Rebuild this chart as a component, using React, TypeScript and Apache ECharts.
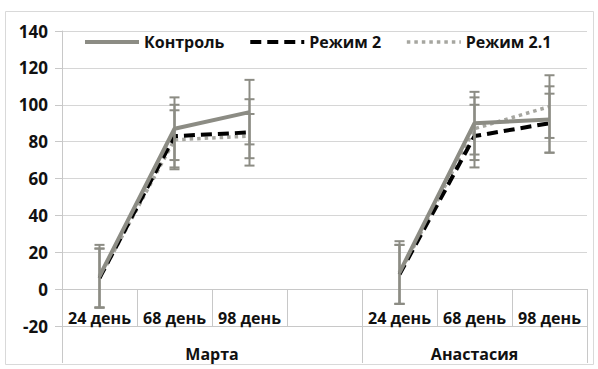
import React, { useEffect, useRef } from "react";
import * as echarts from "echarts";

const categories = ["24 день", "68 день", "98 день", "", "24 день", "68 день", "98 день"];
const groups = ["Марта", "Анастасия"];
const groupSizes = [4, 3];
const seriesNames = ["Контроль", "Режим 2", "Режим 2.1"];
const control = [7, 87, 96, null, 9, 90, 92];
const regime2 = [6, 83, 85, null, 8, 83, 90];
const regime21 = [6, 81, 83, null, 8, 87, 99];
const controlErr = [17, 17, 17.5, null, 17, 17, 18];
const regime2Err = [16, 17, 18, null, 16, 17, 16];
const regime21Err = [16, 16, 12, null, 16, 17, 17];
const yTicks = { min: -20, max: 140, interval: 20 };

const FONT = "'Open Sans', sans-serif";
const GRAY = "#8c8c84";

export default function App() {
  const ref = useRef<HTMLDivElement>(null);
  useEffect(() => {
    if (!ref.current) return;
    const chart = echarts.init(ref.current, null, { renderer: "svg" });

    const total = groupSizes.reduce((a, b) => a + b, 0);
    const halfCats: string[] = new Array(total * 2 + 1).fill("");
    const tickIdx: number[] = [0];
    const labelIdx: number[] = [];
    let start = 0;
    groups.forEach((g, i) => {
      const center = start + groupSizes[i];
      halfCats[center] = g;
      labelIdx.push(center);
      start += groupSizes[i] * 2;
      tickIdx.push(start);
    });

    const values = [control, regime2, regime21];
    const errs = [controlErr, regime2Err, regime21Err];
    const lineStyles = [
      { color: GRAY, width: 4, type: "solid" as any },
      { color: "#000000", width: 4, type: [11, 6] as any },
      { color: "#a6a6a0", width: 3.5, type: [3.5, 4] as any },
    ];
    const zs = [4, 3, 2];

    const lineSeries = values.map((v, i) => ({
      name: seriesNames[i],
      type: "line" as const,
      xAxisIndex: 0,
      yAxisIndex: 0,
      data: v.map((x) => (x === null ? "-" : x)),
      symbol: "none",
      connectNulls: false,
      lineStyle: lineStyles[i],
      itemStyle: { color: lineStyles[i].color },
      z: zs[i],
    }));

    const errSeries = values.map((v, i) => ({
      type: "custom" as const,
      xAxisIndex: 0,
      yAxisIndex: 0,
      z: 5,
      silent: true,
      data: v
        .map((x, k) => (x === null ? null : [k, x, errs[i][k]]))
        .filter((d) => d !== null),
      renderItem: (params: any, api: any) => {
        const xi = api.value(0);
        const y = api.value(1);
        const e = api.value(2);
        const top = api.coord([xi, y + e]);
        const bot = api.coord([xi, y - e]);
        const cw = 5;
        const style = { stroke: GRAY, lineWidth: 2 };
        return {
          type: "group",
          children: [
            { type: "line", shape: { x1: top[0], y1: top[1], x2: bot[0], y2: bot[1] }, style },
            { type: "line", shape: { x1: top[0] - cw, y1: top[1], x2: top[0] + cw, y2: top[1] }, style },
            { type: "line", shape: { x1: bot[0] - cw, y1: bot[1], x2: bot[0] + cw, y2: bot[1] }, style },
          ],
        };
      },
    }));

    const labelFont = { fontSize: 16, fontWeight: 700, color: "#111", fontFamily: FONT };

    chart.setOption({
      animation: false,
      backgroundColor: "#ffffff",
      textStyle: { fontFamily: FONT },
      graphic: [
        {
          type: "rect",
          shape: { x: 5.5, y: 11.5, width: 588, height: 353 },
          style: { fill: "none", stroke: "#d9d9d9", lineWidth: 1 },
          silent: true,
        },
      ],
      legend: {
        left: 78,
        top: 29,
        itemWidth: 54,
        itemHeight: 14,
        itemGap: 24,
        itemStyle: { opacity: 0 },
        textStyle: { ...labelFont },
        data: seriesNames.map((n, i) => ({
          name: n,
          lineStyle: { width: lineStyles[i].width, type: lineStyles[i].type, color: lineStyles[i].color },
        })),
      },
      grid: { left: 62, right: 11, top: 31, bottom: 43, containLabel: false },
      xAxis: [
        {
          type: "category",
          data: categories,
          boundaryGap: true,
          position: "bottom",
          offset: -37,
          axisLine: { show: true, onZero: false, lineStyle: { color: "#c8c8c8", width: 1 } },
          axisTick: { show: true, interval: 0, length: 37, lineStyle: { color: "#c8c8c8" } },
          axisLabel: { interval: 0, margin: 21, ...labelFont },
        },
        {
          type: "category",
          position: "bottom",
          data: halfCats,
          boundaryGap: false,
          axisLine: { show: true, onZero: false, lineStyle: { color: "#c8c8c8", width: 1 } },
          axisTick: {
            show: true,
            length: 37,
            interval: (idx: number) => tickIdx.includes(idx),
            lineStyle: { color: "#c8c8c8" },
          },
          axisLabel: {
            interval: (idx: number) => labelIdx.includes(idx),
            margin: 20,
            ...labelFont,
          },
        },
      ],
      yAxis: {
        type: "value",
        min: yTicks.min,
        max: yTicks.max,
        interval: yTicks.interval,
        axisLine: { show: true, lineStyle: { color: "#c8c8c8" } },
        axisTick: { show: true, length: 7, lineStyle: { color: "#c8c8c8" } },
        splitLine: { show: true, lineStyle: { color: "#d6d6d6", width: 1 } },
        axisLabel: { margin: 14, ...labelFont, fontSize: 17 },
      },
      series: [...lineSeries, ...errSeries],
    });
    return () => chart.dispose();
  }, []);
  return (
    <div
      ref={ref}
      style={{ position: "absolute", left: 0, top: 0, width: 598, height: 369, background: "#fff" }}
    />
  );
}
